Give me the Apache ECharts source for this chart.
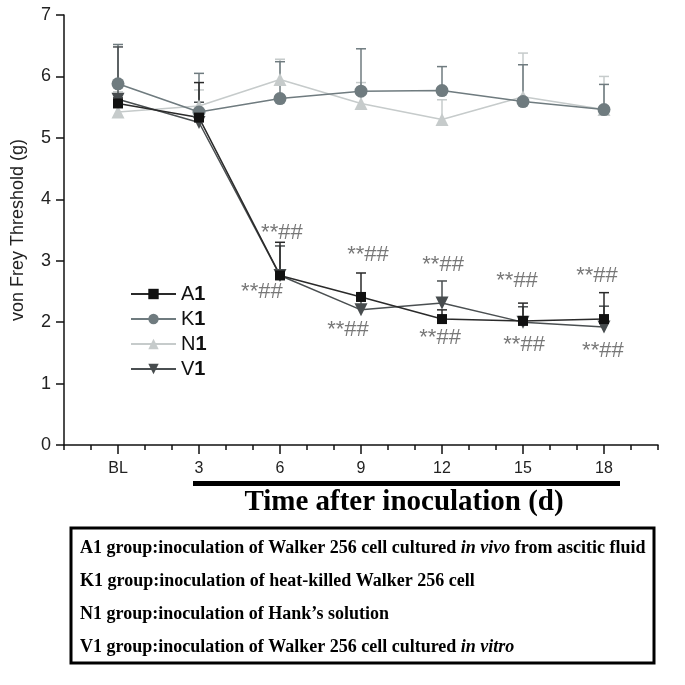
<!DOCTYPE html>
<html>
<head>
<meta charset="utf-8">
<script src="https://cdn.jsdelivr.net/npm/echarts@6/dist/echarts.min.js"></script>
<style>html,body{margin:0;padding:0;background:#fff;}#c{width:685px;height:685px;}</style>
</head>
<body>
<div id="c"></div>
<script>
// ---- data ----
const xPos = [0, 3, 6, 9, 12, 15, 18];
const xLabels = ['BL', '3', '6', '9', '12', '15', '18'];
const a1 = [5.56, 5.33, 2.76, 2.41, 2.05, 2.02, 2.05];
const k1 = [5.88, 5.42, 5.64, 5.76, 5.77, 5.59, 5.46];
const n1 = [5.42, 5.52, 5.95, 5.56, 5.30, 5.67, 5.46];
const v1 = [5.63, 5.25, 2.76, 2.20, 2.31, 2.00, 1.92];
const a1Err = [0.09, 0.57, 0.54, 0.39, 0.15, 0.29, 0.43];
const k1Err = [0.64, 0.63, 0.60, 0.69, 0.39, 0.60, 0.41];
const n1Err = [0.33, 0.26, 0.33, 0.34, 0.32, 0.71, 0.54];
const v1Err = [0.85, 0.33, 0.48, 0.20, 0.36, 0.25, 0.34];
const annotText = '**##';
const annotX = [6.07, 5.33, 9.26, 8.52, 12.04, 11.93, 14.78, 15.04, 17.74, 17.96];
const annotY = [3.45, 2.49, 3.09, 1.87, 2.93, 1.74, 2.67, 1.63, 2.75, 1.53];
const boxLines = [
  [['b', 'A1 group:inoculation of Walker 256 cell cultured '], ['bi', 'in vivo'], ['b', ' from ascitic fluid']],
  [['b', 'K1 group:inoculation of heat-killed Walker 256 cell']],
  [['b', 'N1 group:inoculation of Hank\u2019s solution']],
  [['b', 'V1 group:inoculation of Walker 256 cell cultured '], ['bi', 'in vitro']]
];

const colors = { A1: '#111111', K1: '#6f7b7f', N1: '#c6cbcb', V1: '#474c4e' };
const lineColors = { A1: '#2a2a2a', K1: '#6f7b7f', N1: '#c6cbcb', V1: '#4a4f51' };

function pairs(vals) { return vals.map((v, i) => [xPos[i], v]); }
function errData(vals, errs) { return vals.map((v, i) => [xPos[i], v, v + errs[i]]); }

function errSeries(name, vals, errs) {
  return {
    type: 'custom', name: name + '_err', xAxisIndex: 0, yAxisIndex: 0, z: 1,
    silent: true,
    data: errData(vals, errs),
    renderItem: function (params, api) {
      const p0 = api.coord([api.value(0), api.value(1)]);
      const p1 = api.coord([api.value(0), api.value(2)]);
      const c = lineColors[name];
      return {
        type: 'group',
        children: [
          { type: 'line', shape: { x1: p0[0], y1: p0[1], x2: p1[0], y2: p1[1] }, style: { stroke: c, lineWidth: 1.5 } },
          { type: 'line', shape: { x1: p1[0] - 5, y1: p1[1], x2: p1[0] + 5, y2: p1[1] }, style: { stroke: c, lineWidth: 1.5 } }
        ]
      };
    }
  };
}

function lineSeries(name, vals, symbol, size, rotate) {
  return {
    type: 'line', name: name, data: pairs(vals), xAxisIndex: 0, yAxisIndex: 0, z: 3,
    symbol: symbol, symbolSize: size, symbolRotate: rotate || 0, showAllSymbol: true,
    lineStyle: { color: lineColors[name], width: 1.5 },
    itemStyle: { color: colors[name], borderWidth: 0 },
    emphasis: { disabled: true }
  };
}

const chart = echarts.init(document.getElementById('c'), null, { renderer: 'canvas' });

const richStyles = {
  b: { fontFamily: 'Liberation Serif', fontWeight: 'bold', fontSize: 18, fill: '#000' },
  bi: { fontFamily: 'Liberation Serif', fontWeight: 'bold', fontStyle: 'italic', fontSize: 18, fill: '#000' }
};
const boxTexts = boxLines.map((parts, i) => ({
  type: 'text', x: 80, y: 548 + i * 33,
  style: {
    text: parts.map(p => '{' + p[0] + '|' + p[1] + '}').join(''),
    rich: richStyles, verticalAlign: 'middle', align: 'left'
  }
}));

chart.setOption({
  animation: false,
  backgroundColor: '#fff',
  grid: { left: 64, right: 27, top: 15, bottom: 240, containLabel: false, outerBoundsMode: 'none' },
  legend: {
    orient: 'vertical', left: 130, top: 283, itemWidth: 45, itemHeight: 13, itemGap: 3,
    padding: 0,
    data: ['A1', 'K1', 'N1', 'V1'],
    formatter: function (n) { return '{n|' + n[0] + '}{d|' + n.slice(1) + '}'; },
    textStyle: {
      color: '#111', fontSize: 20, fontFamily: 'Liberation Sans', lineHeight: 22,
      rich: {
        n: { fontSize: 20, fontFamily: 'Liberation Sans', color: '#111', lineHeight: 22 },
        d: { fontSize: 20, fontFamily: 'Liberation Sans', fontWeight: 'bold', color: '#111', lineHeight: 22 }
      }
    }
  },
  xAxis: [
    {
      type: 'value', min: -2, max: 20, interval: 1,
      axisLine: { show: true, onZero: false, lineStyle: { color: '#111', width: 1.5 } },
      axisTick: { show: true, customValues: xPos, length: 9, lineStyle: { color: '#111', width: 1.5 } },
      axisLabel: {
        show: true, customValues: xPos, margin: 16, fontSize: 16, color: '#222', fontFamily: 'Liberation Sans',
        formatter: function (v) { const i = xPos.indexOf(v); return i >= 0 ? xLabels[i] : ''; }
      },
      splitLine: { show: false }
    },
    {
      type: 'value', min: -2, max: 20, interval: 1, position: 'bottom',
      axisLine: { show: false },
      axisTick: { show: true, length: 5, lineStyle: { color: '#111', width: 1.5 } },
      axisLabel: { show: false },
      splitLine: { show: false }
    }
  ],
  yAxis: {
    type: 'value', min: 0, max: 7, interval: 1,
    name: 'von Frey Threshold (g)', nameLocation: 'middle', nameGap: 37,
    nameTextStyle: { fontSize: 18, color: '#222', fontFamily: 'Liberation Sans' },
    axisLine: { show: true, onZero: false, lineStyle: { color: '#111', width: 1.5 } },
    axisTick: { show: true, length: 8, lineStyle: { color: '#111', width: 1.5 } },
    axisLabel: { fontSize: 18, color: '#222', margin: 13, fontFamily: 'Liberation Sans' },
    splitLine: { show: false }
  },
  series: [
    errSeries('N1', n1, n1Err),
    errSeries('K1', k1, k1Err),
    errSeries('V1', v1, v1Err),
    errSeries('A1', a1, a1Err),
    lineSeries('N1', n1, 'triangle', 13),
    lineSeries('K1', k1, 'circle', 13),
    lineSeries('V1', v1, 'triangle', 13, 180),
    lineSeries('A1', a1, 'rect', 10),
    {
      type: 'scatter', name: 'annot', xAxisIndex: 0, yAxisIndex: 0, z: 5, silent: true,
      symbolSize: 1, itemStyle: { color: 'rgba(0,0,0,0)' },
      data: annotX.map((x, i) => [x, annotY[i]]),
      label: { show: true, position: 'inside', formatter: annotText, fontSize: 22, color: '#555', fontFamily: 'Liberation Sans' }
    }
  ],
  graphic: [
    { type: 'rect', shape: { x: 193, y: 481, width: 427, height: 5 }, style: { fill: '#000' } },
    {
      type: 'text', x: 404, y: 503,
      style: { text: 'Time after inoculation (d)', fontFamily: 'Liberation Serif', fontWeight: 'bold', fontSize: 29, fill: '#000', align: 'center', verticalAlign: 'middle' }
    },
    { type: 'rect', shape: { x: 71, y: 528, width: 583, height: 135 }, style: { fill: 'none', stroke: '#000', lineWidth: 3 } }
  ].concat(boxTexts)
});
</script>
</body>
</html>
